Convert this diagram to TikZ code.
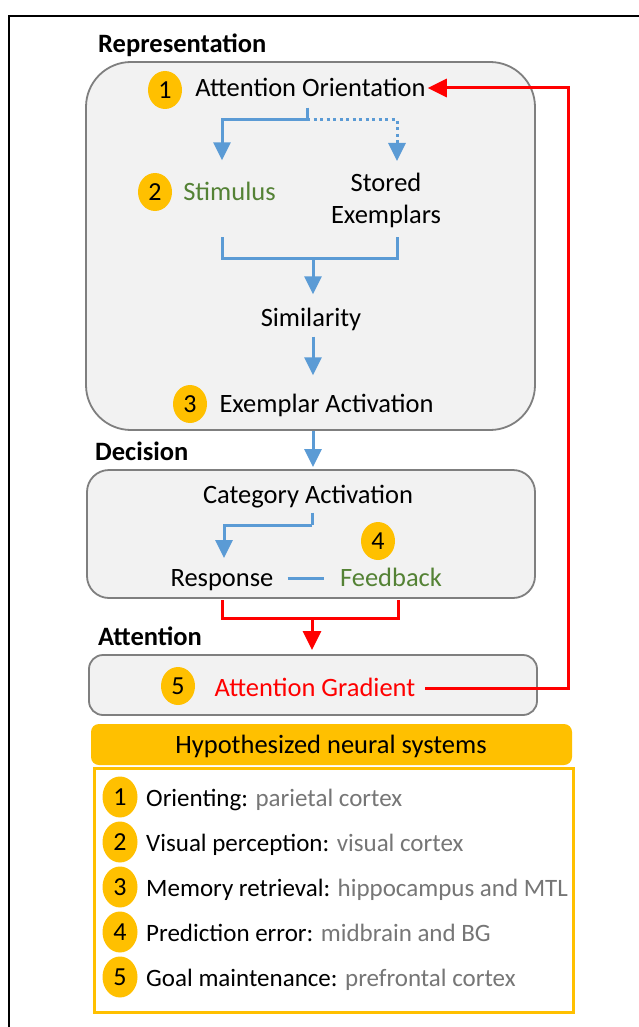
\documentclass[tikz,border=0pt]{standalone}
\usepackage{fontspec}
\setmainfont{Carlito}
\usetikzlibrary{shapes.geometric,arrows.meta}
\definecolor{cblue}{HTML}{5B9BD5}
\definecolor{cgreen}{HTML}{548235}
\definecolor{cyel}{HTML}{FFC000}
\definecolor{cgrayfill}{HTML}{F2F2F2}
\definecolor{cgrayline}{HTML}{7F7F7F}
\definecolor{cgraytext}{HTML}{767676}
\definecolor{cred}{HTML}{FF0000}
\tikzset{
  txt/.style={inner sep=0pt, font=\fontsize{26.5}{32}\selectfont, text height=20pt, text depth=3pt},
  lst/.style={inner sep=0pt, anchor=west, font=\fontsize{25}{30}\selectfont, text height=18pt, text depth=4pt},
  hdr/.style={inner sep=0pt, anchor=west, font=\fontsize{26.5}{32}\selectfont\bfseries, text height=20pt, text depth=3pt},
  num/.style={ellipse, fill=cyel, inner sep=0pt, minimum width=34pt, minimum height=38pt, font=\fontsize{26}{30}\selectfont},
  numl/.style={ellipse, fill=cyel, inner sep=0pt, minimum width=35pt, minimum height=41pt, font=\fontsize{26}{30}\selectfont},
  gbox/.style={draw=cgrayline, fill=cgrayfill, line width=1.8pt},
  bl/.style={draw=cblue, line width=3pt},
  bla/.style={bl, -{Triangle[width=17pt,length=18pt]}},
  rd/.style={draw=cred, line width=3pt},
  rda/.style={rd, -{Triangle[width=18pt,length=19pt]}},
}
\begin{document}
\begin{tikzpicture}[x=1pt,y=-1pt]
\useasboundingbox (0,0) rectangle (639,1027);
\fill[white] (0,0) rectangle (639,1027);
\draw[black, line width=1.6pt] (9,1027) -- (9,16) -- (639,16);

% boxes
\node[gbox, rounded corners=45pt, minimum width=449pt, minimum height=368pt] (rep) at (310.5,246) {};
\node[gbox, rounded corners=22pt, minimum width=448pt, minimum height=128pt] (dec) at (311,534) {};
\node[gbox, rounded corners=14pt, minimum width=448pt, minimum height=60pt] (att) at (313,685) {};

% headers
\node[hdr] (hrep) at (98,44) {Representation};
\node[hdr] (hdec) at (95,452) {Decision};
\node[hdr] (hatt) at (98,637) {Attention};

% representation content
\node[txt] (ao) at (310.5,88) {Attention Orientation};
\node[num] (n1) at (165,90) {1};
\node[txt, text=cgreen] (stim) at (229.5,192) {Stimulus};
\node[num] (n2) at (155,192) {2};
\node[txt, align=center] (se) at (386,215) {Stored\\[0pt]Exemplars};
\node[txt] (sim) at (311,318) {Similarity};
\node[txt] (ea) at (326.5,404) {Exemplar Activation};
\node[num] (n3) at (190,404) {3};

% decision content
\node[txt] (ca) at (308,495) {Category Activation};
\node[num] (n4) at (378,541) {4};
\node[txt] (resp) at (222,578) {Response};
\node[txt, text=cgreen] (fb) at (391,578) {Feedback};

% attention content
\node[num] (n5) at (178,686) {5};
\node[txt, text=cred] (ag) at (315,688) {Attention Gradient};

% blue connectors in representation
\coordinate (j1) at (307,120);
\draw[bl] ([yshift=-8pt]ao.south -| j1) -- (j1);
\draw[bla] (j1) -| ([xshift=-7.5pt,yshift=20pt]stim.north);
\draw[cblue, line width=3pt, dash pattern=on 3pt off 3.5pt] (j1) -- (397,120) -- (397,143);
\draw[bla] (397,142) -- (397,161);
\coordinate (j2) at (313,258);
\draw[bl] (222,237) -- (222,258) -- (397,258) -- (397,237);
\draw[bla] (j2) -- ([yshift=12pt]sim.north -| j2);
\draw[bla] ([yshift=-7pt]sim.south -| j2) -- ([yshift=17pt]ea.north -| j2);
\draw[bla] (rep.south -| j2) -- ([yshift=2pt]dec.north -| j2);

% blue connectors in decision
\coordinate (j3) at (312,525);
\draw[bl] ([yshift=-6pt]ca.south -| j3) -- (j3);
\draw[bla] (j3) -| (224,558);
\draw[bl] ([xshift=14pt]resp.east) -- ([xshift=-16pt]fb.west);

% red connectors
\coordinate (j4) at (312,618);
\draw[rd] (222,600) -- (222,618) -- (398,618) -- (398,600);
\draw[rda] (j4) -- ([yshift=4pt]att.north -| j4);
\coordinate (rc) at (568,688);
\draw[rda] ([xshift=10pt]ag.east) -- (rc) |- ([xshift=2pt]ao.east);

% neural systems
\node[fill=cyel, rounded corners=8pt, minimum width=481pt, minimum height=41pt, inner sep=0pt] (hns) at (331.5,744.5) {};
\node[txt] (hnst) at (331,745) {Hypothesized neural systems};
\node[draw=cyel, line width=3pt, fill=white, minimum width=479pt, minimum height=244pt, inner sep=0pt] (lbox) at (333.5,890) {};

\node[numl] (l1) at (120,797) {1};
\node[lst] (t1) at (146,799) {Orienting: \textcolor{cgraytext}{parietal cortex}};
\node[numl] (l2) at (120,842) {2};
\node[lst] (t2) at (146,844) {Visual perception: \textcolor{cgraytext}{visual cortex}};
\node[numl] (l3) at (120,887) {3};
\node[lst] (t3) at (146,889) {Memory retrieval: \textcolor{cgraytext}{hippocampus and MTL}};
\node[numl] (l4) at (120,932) {4};
\node[lst] (t4) at (146,934) {Prediction error: \textcolor{cgraytext}{midbrain and BG}};
\node[numl] (l5) at (120,977) {5};
\node[lst] (t5) at (146,979) {Goal maintenance: \textcolor{cgraytext}{prefrontal cortex}};
\end{tikzpicture}
\end{document}
